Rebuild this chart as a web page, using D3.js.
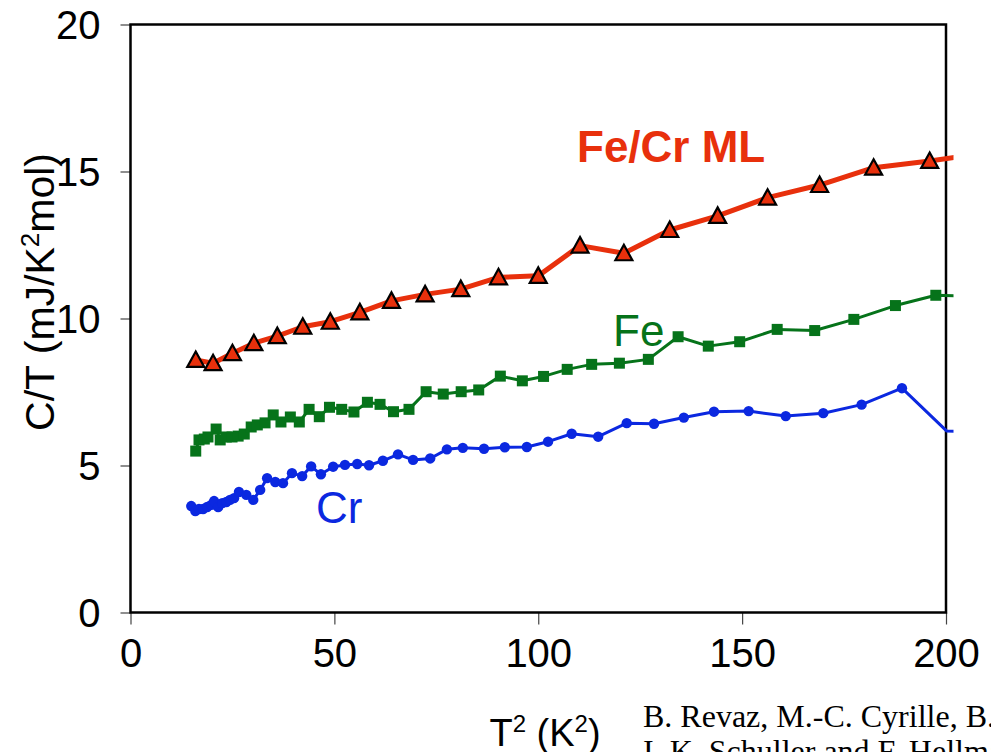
<!DOCTYPE html>
<html>
<head>
<meta charset="utf-8">
<script src="https://cdn.jsdelivr.net/npm/d3@7"></script>
<style>
  body { margin: 0; background: #fff; }
  svg { display: block; font-family: "Liberation Sans", Arial, sans-serif; }
</style>
</head>
<body>
<script>
// - Specific heat C/T vs T^2 -

// Data (T^2 in K^2, C/T in mJ/K^2mol)

const tFeCr = [16, 20.25, 25, 30.25, 36, 42.25, 49, 56.25, 64, 72.25, 81, 90.25, 100,
               110.25, 121, 132.25, 144, 156.25, 169, 182.25, 196, 210.25];
const cFeCr = [8.59, 8.48, 8.82, 9.16, 9.40, 9.72, 9.89, 10.21, 10.60, 10.82, 11.00, 11.40, 11.45,
               12.48, 12.22, 13.01, 13.49, 14.11, 14.54, 15.13, 15.36, 15.63];

const tFe = [16.0, 16.8, 18.1, 19.0, 21.0, 22.0, 23.5, 24.9, 26.4, 27.9, 29.6, 31.1, 33.0, 35.0,
             36.9, 39.2, 41.4, 43.8, 46.3, 48.8, 51.8, 54.8, 58.1, 61.2, 64.5, 68.3, 72.5, 76.7,
             81.1, 85.4, 90.7, 96.1, 101.3, 107.1, 113.1, 119.9, 127.0, 134.3, 141.7, 149.4,
             158.6, 167.8, 177.4, 187.6, 197.5, 208];
const cFe = [5.49, 5.87, 5.90, 5.97, 6.24, 5.87, 5.97, 5.97, 6.00, 6.07, 6.31, 6.38, 6.45, 6.72,
             6.48, 6.65, 6.48, 6.91, 6.66, 6.98, 6.91, 6.82, 7.15, 7.08, 6.83, 6.91, 7.51, 7.43,
             7.51, 7.57, 8.04, 7.88, 8.03, 8.27, 8.44, 8.48, 8.61, 9.38, 9.06, 9.21,
             9.63, 9.59, 9.97, 10.44, 10.79, 10.75];

const tCr = [14.9, 15.9, 16.8, 17.8, 18.8, 19.8, 20.5, 21.5, 22.5, 23.5, 24.4, 25.4, 26.6, 28.4,
             30.1, 31.8, 33.5, 35.5, 37.4, 39.6, 42.1, 44.3, 46.7, 49.7, 52.6, 55.6, 58.5, 61.9,
             65.6, 69.3, 73.5, 77.6, 81.5, 86.7, 91.8, 97.2, 102.4, 108.2, 114.7, 121.7, 128.4,
             135.7, 143.1, 151.6, 160.7, 169.9, 179.3, 189.2, 200.2, 212];
const cCr = [3.62, 3.45, 3.52, 3.52, 3.59, 3.66, 3.79, 3.59, 3.72, 3.76, 3.83, 3.89, 4.10, 4.00,
             3.83, 4.17, 4.57, 4.44, 4.40, 4.74, 4.64, 4.97, 4.70, 4.96, 5.02, 5.05, 5.01, 5.16,
             5.38, 5.19, 5.24, 5.55, 5.60, 5.57, 5.62, 5.63, 5.81, 6.08, 5.98, 6.44, 6.42,
             6.63, 6.83, 6.85, 6.68, 6.78, 7.07, 7.63, 6.17, 6.15];

const xTicks = [0, 50, 100, 150, 200];
const yTicks = [0, 5, 10, 15, 20];

// Chart size

const w = 991, h = 752;
const pLeft = 130.5, pRight = 946, pTop = 24.5, pBottom = 612.5;

const red = "#e8300c", green = "#06731a", blue = "#0b28e0";

const svg = d3.select("body").append("svg")
  .attr("width", w)
  .attr("height", h);

const x = d3.scaleLinear().domain([0, 200]).range([pLeft, pRight]);
const y = d3.scaleLinear().domain([0, 20]).range([pBottom, pTop]);

// Clip (the lines run a little past the right frame)

svg.append("clipPath").attr("id", "clip")
  .append("rect")
  .attr("x", pLeft).attr("y", 0)
  .attr("width", pRight - pLeft + 7.5).attr("height", pBottom);

// Axes

const xAxis = svg.append("g")
  .attr("transform", "translate(0," + pBottom + ")")
  .call(d3.axisBottom(x).tickValues(xTicks).tickSize(12).tickPadding(14));

const yAxis = svg.append("g")
  .attr("transform", "translate(" + pLeft + ",0)")
  .call(d3.axisLeft(y).tickValues(yTicks).tickSize(10).tickPadding(20));

[xAxis, yAxis].forEach(a => {
  a.select(".domain").remove();
  a.selectAll(".tick line").attr("stroke", "#444").attr("stroke-width", 1.2);
  a.selectAll(".tick text")
    .attr("font-family", "Liberation Sans, Arial, sans-serif")
    .attr("font-size", 40)
    .attr("fill", "#000");
});
yAxis.selectAll(".tick text").attr("dy", "0.36em");

// Frame

svg.append("rect")
  .attr("x", pLeft).attr("y", pTop)
  .attr("width", pRight - pLeft).attr("height", pBottom - pTop)
  .attr("fill", "none")
  .attr("stroke", "#000")
  .attr("stroke-width", 2.5);

// Series

const plot = svg.append("g").attr("clip-path", "url(#clip)");

function series(ts, cs, color, width) {
  const pts = ts.map((t, i) => [t, cs[i]]);
  plot.append("path")
    .datum(pts)
    .attr("fill", "none")
    .attr("stroke", color)
    .attr("stroke-width", width)
    .attr("stroke-linejoin", "round")
    .attr("d", d3.line().x(d => x(d[0])).y(d => y(d[1])));
  return pts.filter(d => d[0] < 200);
}

const crPts = series(tCr, cCr, blue, 3);
plot.selectAll(".cr")
  .data(crPts).enter()
  .append("circle")
  .attr("cx", d => x(d[0]))
  .attr("cy", d => y(d[1]))
  .attr("r", 5.2)
  .attr("fill", blue);

const fePts = series(tFe, cFe, green, 3);
plot.selectAll(".fe")
  .data(fePts).enter()
  .append("rect")
  .attr("x", d => x(d[0]) - 5.5)
  .attr("y", d => y(d[1]) - 5.5)
  .attr("width", 11)
  .attr("height", 11)
  .attr("fill", green);

const feCrPts = series(tFeCr, cFeCr, red, 5);
plot.selectAll(".fecr")
  .data(feCrPts).enter()
  .append("path")
  .attr("transform", d => "translate(" + x(d[0]) + "," + y(d[1]) + ")")
  .attr("d", "M0,-8.5L8.5,7L-8.5,7Z")
  .attr("fill", red)
  .attr("stroke", "#000")
  .attr("stroke-width", 2.2)
  .attr("stroke-linejoin", "miter");

// Series labels

svg.append("text")
  .attr("x", 577).attr("y", 162)
  .attr("font-size", 44).attr("font-weight", "bold")
  .attr("fill", red)
  .text("Fe/Cr ML");

svg.append("text")
  .attr("x", 613).attr("y", 346)
  .attr("font-size", 44)
  .attr("fill", green)
  .text("Fe");

svg.append("text")
  .attr("x", 316).attr("y", 523)
  .attr("font-size", 44)
  .attr("fill", blue)
  .text("Cr");

// Axis titles

const yTitle = svg.append("text")
  .attr("transform", "translate(54,292) rotate(-90)")
  .attr("text-anchor", "middle")
  .attr("font-size", 41);
yTitle.append("tspan").text("C/T (mJ/K");
yTitle.append("tspan").attr("font-size", 26).attr("dy", -15).text("2");
yTitle.append("tspan").attr("dy", 15).text("mol)");

const xTitle = svg.append("text")
  .attr("x", 545).attr("y", 746)
  .attr("text-anchor", "middle")
  .attr("font-size", 38);
xTitle.append("tspan").text("T");
xTitle.append("tspan").attr("font-size", 24).attr("dy", -14).text("2");
xTitle.append("tspan").attr("dy", 14).text(" (K");
xTitle.append("tspan").attr("font-size", 24).attr("dy", -14).text("2");
xTitle.append("tspan").attr("dy", 14).text(")");

// Citation

const cite = svg.append("text")
  .attr("font-family", "Liberation Serif, Times New Roman, serif")
  .attr("font-size", 32)
  .attr("fill", "#000");
cite.append("tspan").attr("x", 643).attr("y", 727).text("B. Revaz, M.-C. Cyrille, B. Zink,");
cite.append("tspan").attr("x", 643).attr("y", 762).text("I. K. Schuller and F. Hellman");
</script>
</body>
</html>
